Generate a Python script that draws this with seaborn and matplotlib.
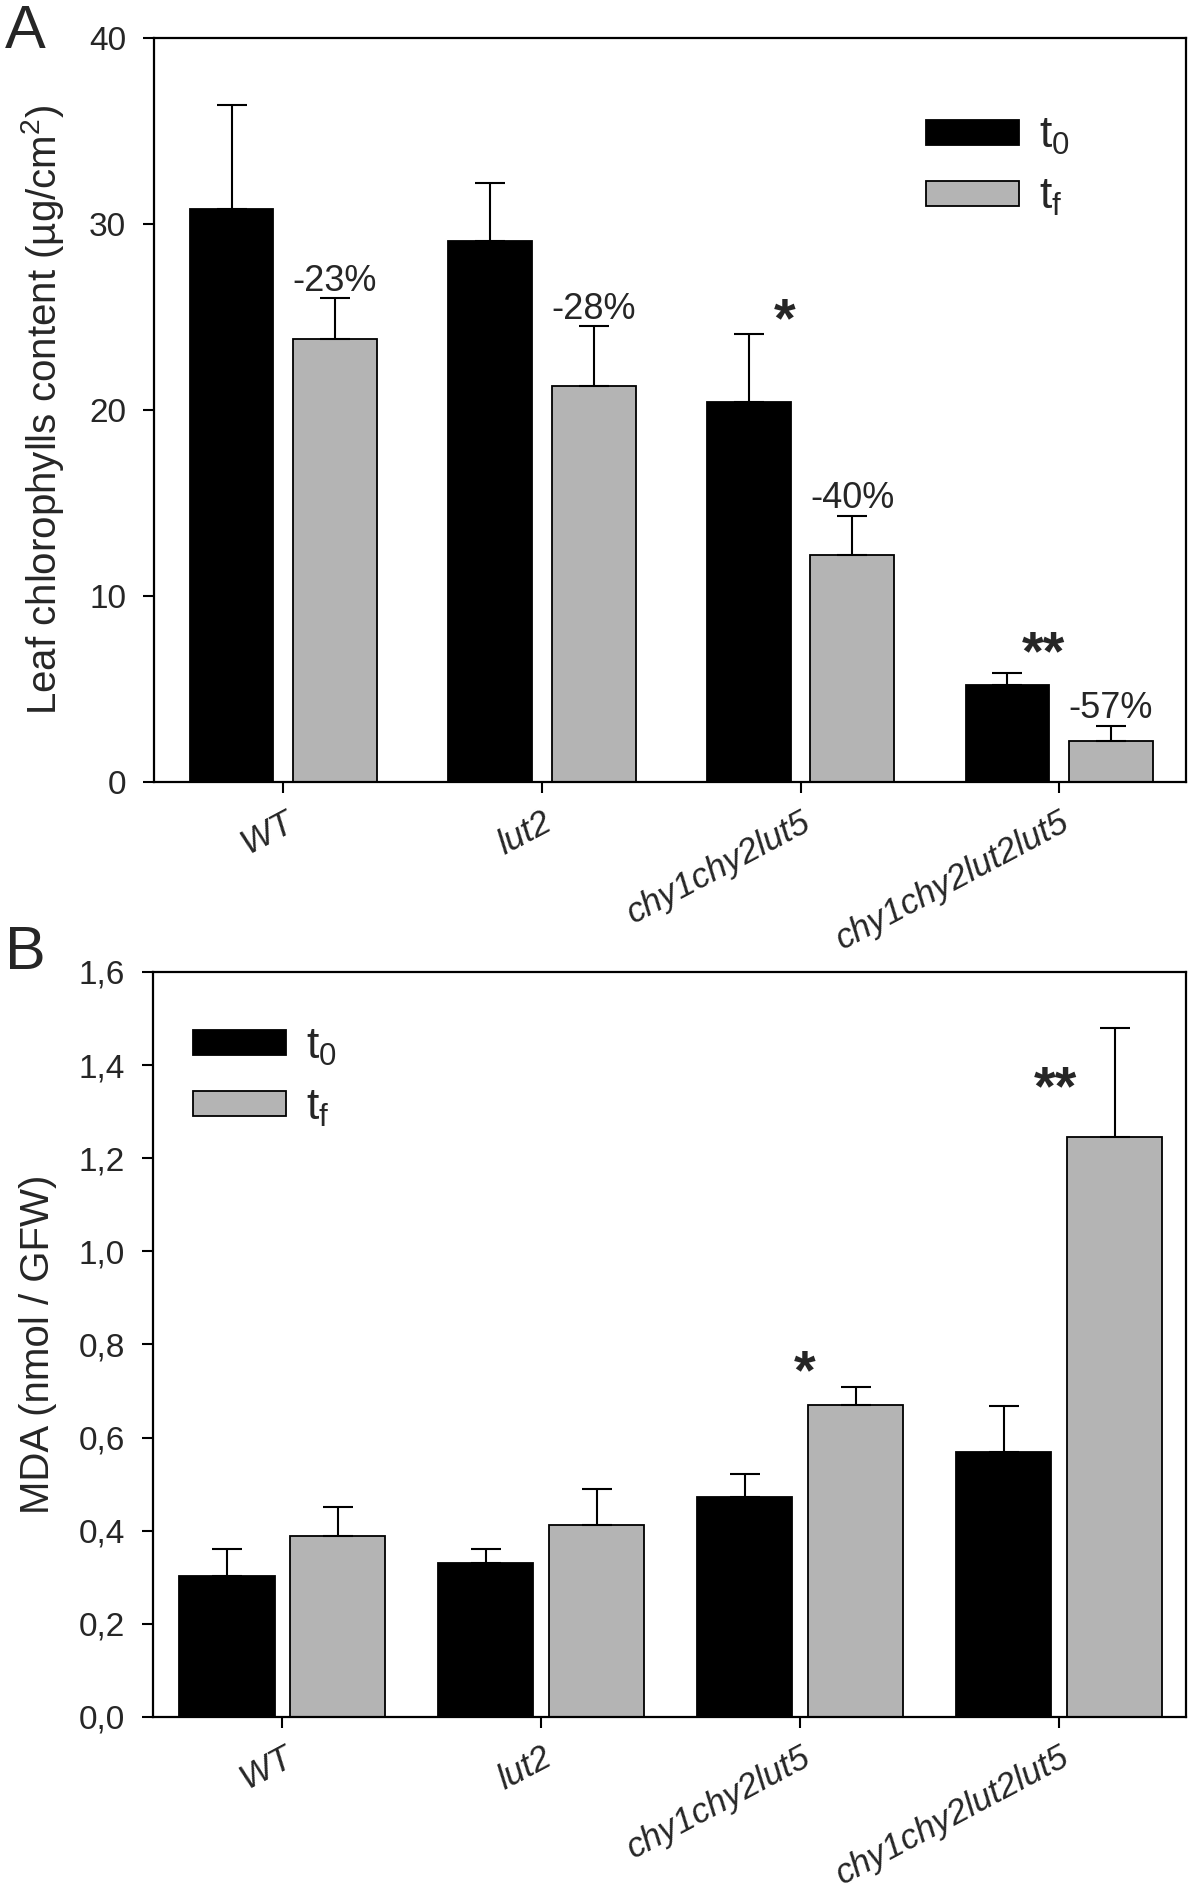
import numpy as np
import pandas as pd
import matplotlib
matplotlib.use("Agg")
import matplotlib.pyplot as plt
from matplotlib.patches import Patch
import seaborn as sns

genotypes = ["WT", "lut2", "chy1chy2lut5", "chy1chy2lut2lut5"]
times = ["t0", "tf"]

# A: leaf chlorophylls content (ug/cm2), mean and upper error
chl_t0 = [30.8, 29.1, 20.4, 5.2]
chl_t0_err = [5.6, 3.1, 3.7, 0.65]
chl_tf = [23.8, 21.3, 12.2, 2.2]
chl_tf_err = [2.2, 3.2, 2.1, 0.8]
chl_pct = ["-23%", "-28%", "-40%", "-57%"]
chl_stars = ["", "", "*", "**"]
chl_yticks = [0, 10, 20, 30, 40]

# B: MDA (nmol / GFW)
mda_t0 = [0.303, 0.330, 0.472, 0.568]
mda_t0_err = [0.057, 0.030, 0.050, 0.099]
mda_tf = [0.389, 0.413, 0.669, 1.246]
mda_tf_err = [0.062, 0.076, 0.040, 0.234]
mda_stars = ["", "", "*", "**"]
mda_yticks = [0.0, 0.2, 0.4, 0.6, 0.8, 1.0, 1.2, 1.4, 1.6]
mda_yticklabels = ["0,0", "0,2", "0,4", "0,6", "0,8", "1,0", "1,2", "1,4", "1,6"]

GRAY = "#b4b4b4"
sns.set_style("ticks")
plt.rcParams["font.family"] = ["Liberation Sans", "DejaVu Sans"]
plt.rcParams["mathtext.fontset"] = "custom"
plt.rcParams["mathtext.rm"] = "Liberation Sans"
plt.rcParams["mathtext.it"] = "Liberation Sans:italic"
plt.rcParams["mathtext.default"] = "regular"


def draw_panel(ax, t0, t0_err, tf, tf_err, width, gap):
    df = pd.DataFrame({
        "genotype": genotypes * 2,
        "time": ["t0"] * len(genotypes) + ["tf"] * len(genotypes),
        "value": t0 + tf,
    })
    sns.barplot(data=df, x="genotype", y="value", hue="time", order=genotypes,
                hue_order=times, palette={"t0": "black", "tf": GRAY},
                saturation=1, width=width, gap=gap, edgecolor="black",
                linewidth=1.3, errorbar=None, legend=False, ax=ax)
    # upper error bars only
    for cont, err in zip(ax.containers, [t0_err, tf_err]):
        xs = [b.get_x() + b.get_width() / 2 for b in cont]
        ys = [b.get_height() for b in cont]
        ax.errorbar(xs, ys, yerr=[np.zeros(len(err)), err], fmt="none",
                    ecolor="black", elinewidth=1.5, capsize=11, capthick=1.5)
    for s in ax.spines.values():
        s.set_linewidth(1.6)
        s.set_color("black")
    ax.tick_params(axis="both", direction="out", length=8, width=1.5,
                   labelsize=24, pad=12, color="black")
    ax.tick_params(axis="x", pad=9)
    ax.set_xticks(range(len(genotypes)))
    ax.set_xticklabels(genotypes, rotation=28, ha="right", va="top",
                       rotation_mode="anchor", style="italic", fontsize=25)
    ax.set_xlabel("")
    ax.set_xlim(-0.5, 3.49)


def add_legend(ax, anchor):
    handles = [Patch(facecolor="black", edgecolor="black", linewidth=1.3, label=r"$t_0$"),
               Patch(facecolor=GRAY, edgecolor="black", linewidth=1.3, label=r"$t_f$")]
    ax.legend(handles=handles, loc="upper left", bbox_to_anchor=anchor,
              frameon=False, fontsize=32, handlelength=2.1, handleheight=0.5,
              handletextpad=0.45, labelspacing=0.45, borderpad=0, borderaxespad=0)


fig = plt.figure(figsize=(12, 18.88), dpi=100)

# Panel A
axA = fig.add_axes([0.1283, 0.586, 0.86, 0.3939])
draw_panel(axA, chl_t0, chl_t0_err, chl_tf, chl_tf_err, width=0.8, gap=0.19)
axA.set_ylim(0, 40)
axA.set_yticks(chl_yticks)
axA.set_ylabel("Leaf chlorophylls content (µg/cm$^2$)", fontsize=29)
axA.yaxis.set_label_coords(-0.085, 0.5)
tf_bars = axA.containers[1]
for i, b in enumerate(tf_bars):
    axA.text(b.get_x() + b.get_width() / 2, chl_tf[i] + chl_tf_err[i] + 0.4,
             chl_pct[i], ha="center", va="baseline", fontsize=26)
for i, s in enumerate(chl_stars):
    if s:
        axA.text(i - 0.06, chl_t0[i] + chl_t0_err[i] + (-0.15 if s == "*" else 0.18), s,
                 ha="center", va="baseline", fontsize=40, fontweight="bold")
add_legend(axA, (0.748, 0.895))
fig.text(0.004, 0.998, "A", fontsize=44, ha="left", va="top")

# Panel B
axB = fig.add_axes([0.1275, 0.0906, 0.861, 0.3946])
draw_panel(axB, mda_t0, mda_t0_err, mda_tf, mda_tf_err, width=0.857, gap=0.143)
axB.set_ylim(0, 1.6)
axB.set_yticks(mda_yticks)
axB.set_yticklabels(mda_yticklabels)
axB.set_ylabel("MDA (nmol / GFW)", fontsize=29)
axB.yaxis.set_label_coords(-0.093, 0.5)
for i, s in enumerate(mda_stars):
    if s:
        if s == "*":
            x, y = i + 0.015, mda_tf[i] + mda_tf_err[i] - 0.003
        else:
            x, y = i - 0.015, mda_tf[i] + 0.07
        axB.text(x, y, s, ha="center", va="baseline", fontsize=40, fontweight="bold")
add_legend(axB, (0.0387, 0.927))
fig.text(0.004, 0.510, "B", fontsize=44, ha="left", va="top")

fig.savefig("out.png", dpi=100)
